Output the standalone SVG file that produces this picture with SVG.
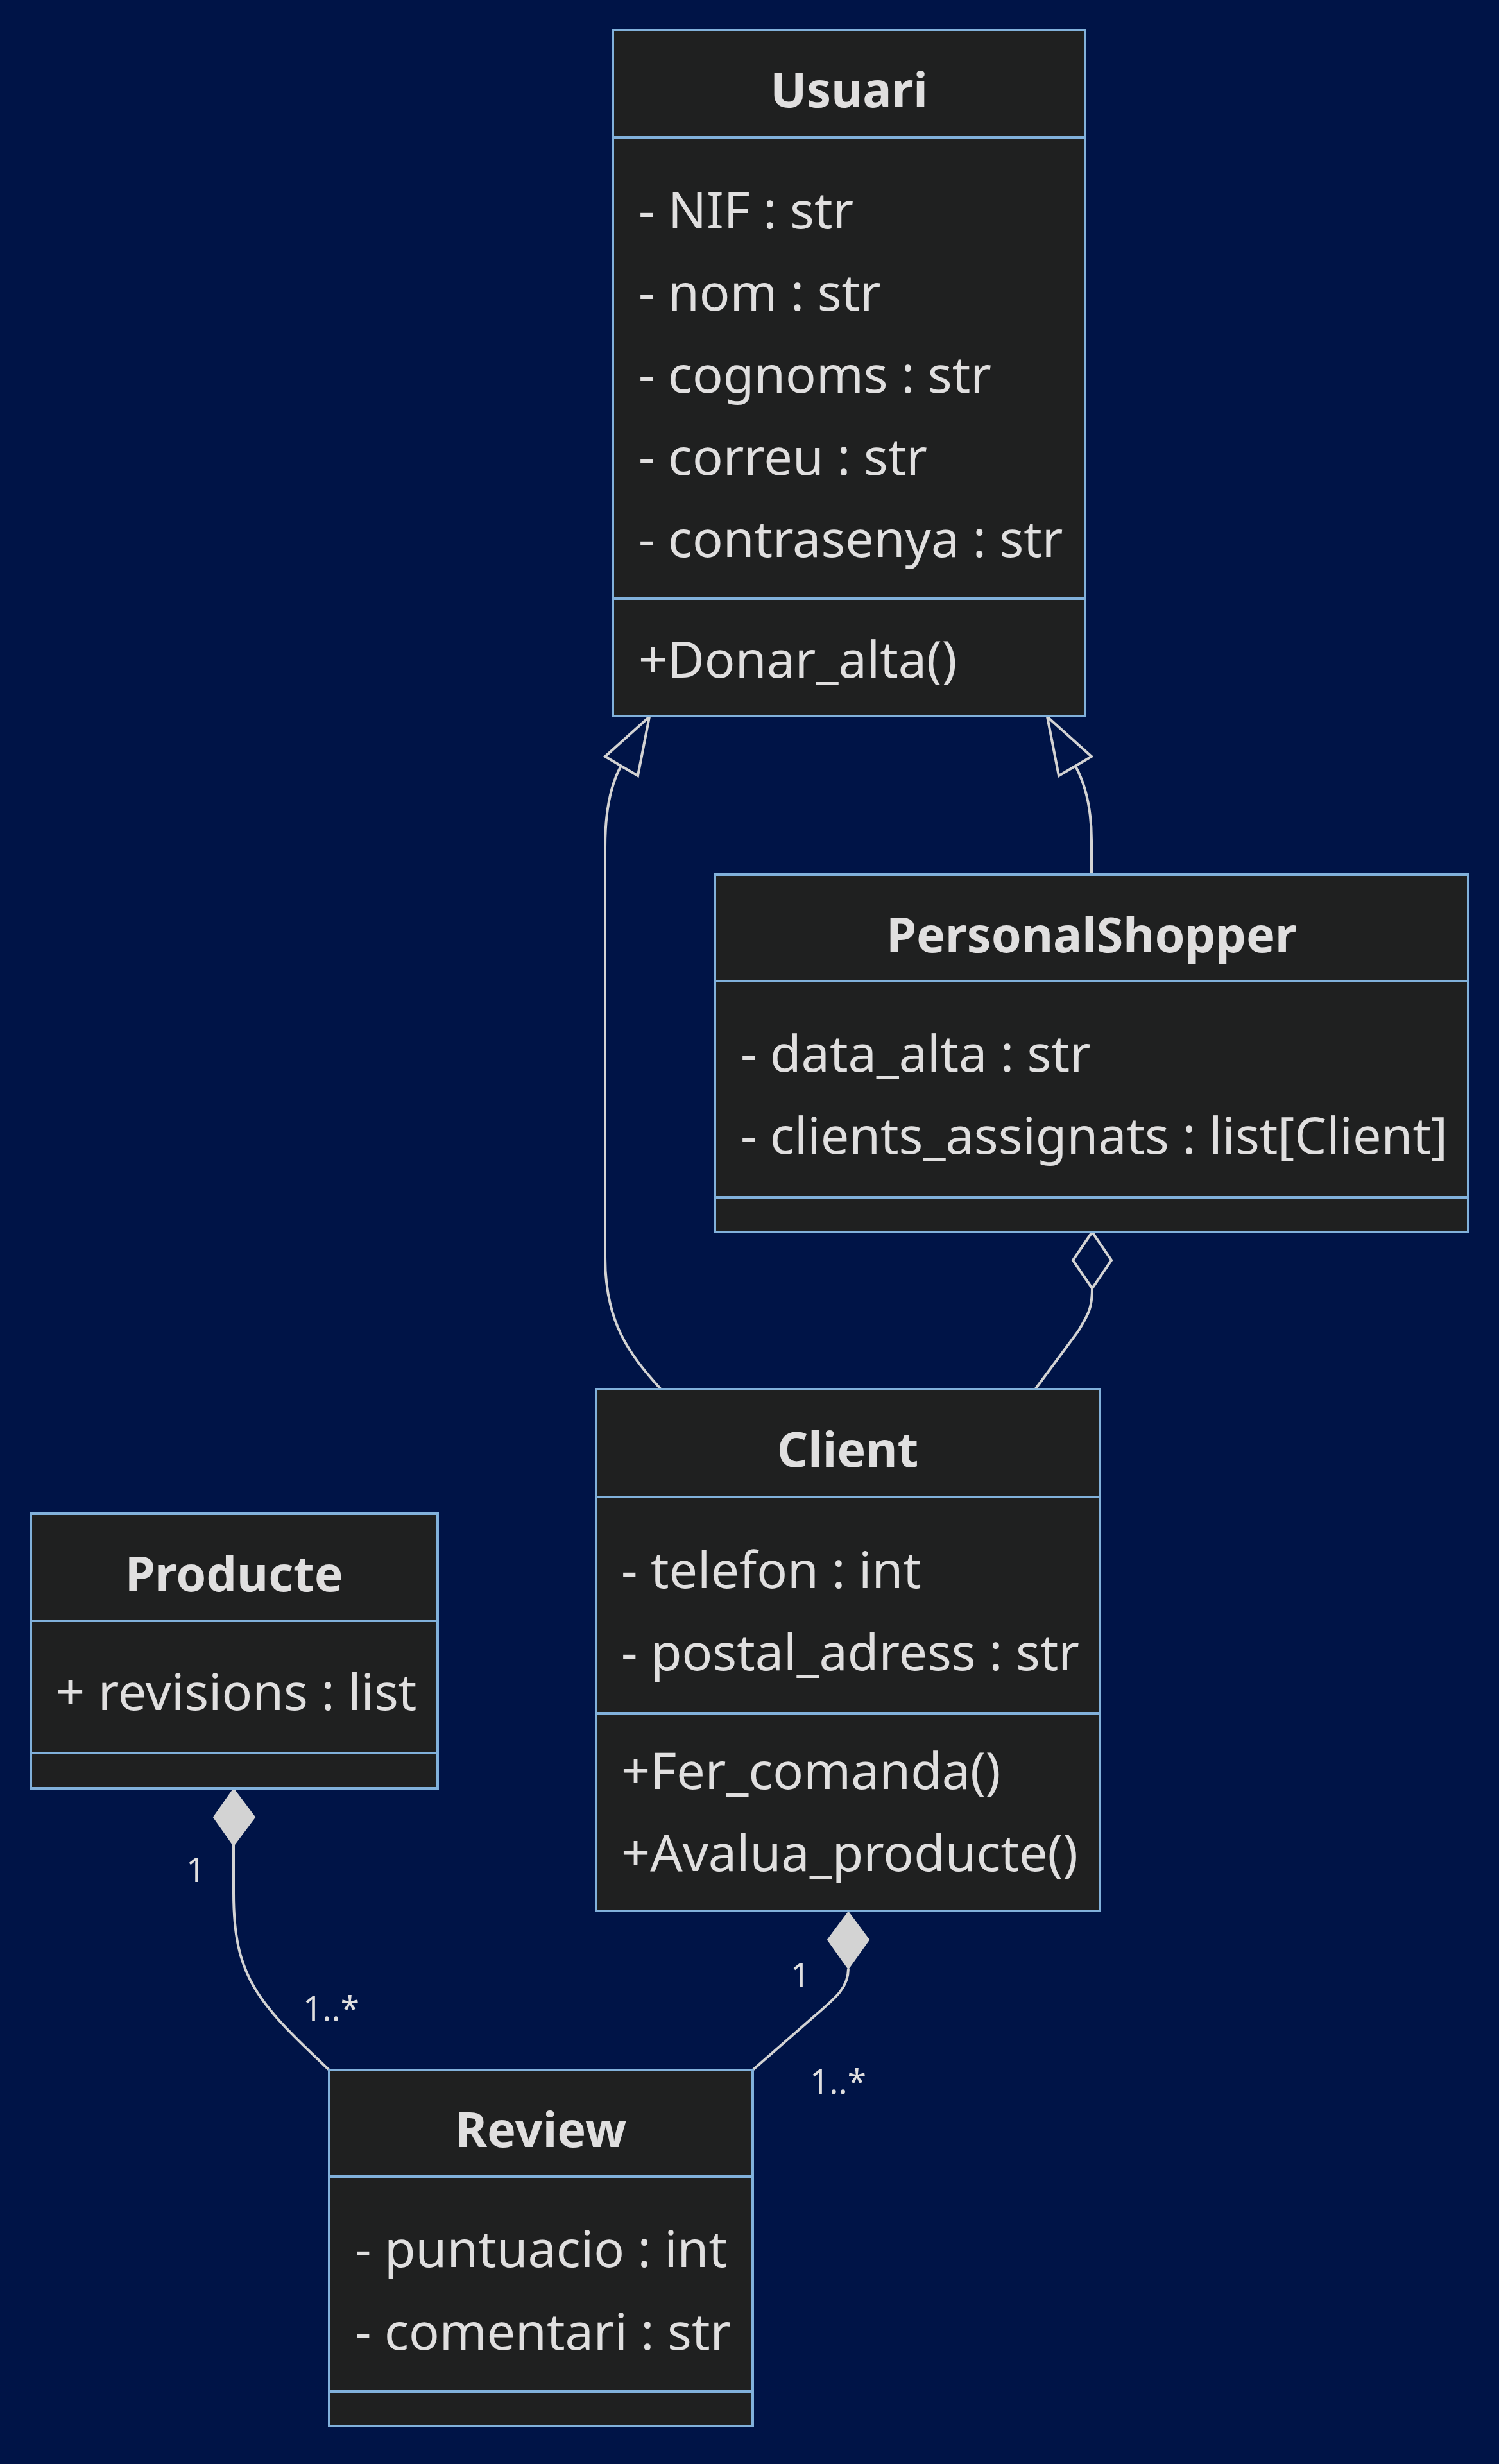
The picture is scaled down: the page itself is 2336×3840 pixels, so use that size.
<svg xmlns="http://www.w3.org/2000/svg" width="2336" height="3840" viewBox="0 0 2336 3840">
<style>
.box{fill:#1f2020;stroke:#81b1db;stroke-width:4}
.div{stroke:#81b1db;stroke-width:4}
.t{font-family:"Noto Sans","Open Sans",sans-serif;fill:#e0dfdf;font-size:79px}
.title{font-weight:bold;text-anchor:middle;font-size:75.5px}
.edge{fill:none;stroke:#d3d3d3;stroke-width:4}
.lbl{font-family:"Noto Sans","Open Sans",sans-serif;fill:#e0dfdf;font-size:53px}
.hollow{fill:none;stroke:#d3d3d3;stroke-width:4;stroke-linejoin:miter}
.filled{fill:#d3d3d3;stroke:#d3d3d3;stroke-width:2}
</style>
<rect x="0" y="0" width="2336" height="3840" fill="#001447"/>

<g id="connectors">
  <path class="edge" d="M967,1195 Q943,1240 943,1320 L943,1960 C943,2060 980,2110 1029,2164"/>
  <polygon class="hollow" points="1012,1117 943,1179 994,1209"/>
  <path class="edge" d="M1676,1194 Q1701,1240 1701,1310 L1701,1363"/>
  <polygon class="hollow" points="1632,1117 1701,1179 1650,1209"/>
  <path class="edge" d="M1702,2008 C1702,2040 1695,2050 1680,2075 L1614,2164"/>
  <polygon class="hollow" points="1702,1920 1672,1964 1702,2008 1732,1964"/>
  <path class="edge" d="M364,2876 L364,2950 C364,3080 400,3120 513,3226"/>
  <polygon class="filled" points="364,2788 333,2832 364,2876 397,2832"/>
  <path class="edge" d="M1322,3068 C1322,3100 1300,3115 1260,3150 L1173,3226"/>
  <polygon class="filled" points="1322,2980 1290,3023 1322,3068 1354,3023"/>
  <text class="lbl" x="290" y="2933">1</text>
  <text class="lbl" x="472" y="3149">1..*</text>
  <text class="lbl" x="1232" y="3097">1</text>
  <text class="lbl" x="1262" y="3263">1..*</text>
</g>

<g id="Usuari">
  <rect class="box" x="955" y="47" width="736" height="1069"/>
  <line class="div" x1="955" y1="214" x2="1691" y2="214"/>
  <line class="div" x1="955" y1="933" x2="1691" y2="933"/>
  <text class="t title" x="1323" y="167">Usuari</text>
  <text class="t" x="995" y="356">- NIF : str</text>
  <text class="t" x="995" y="484">- nom : str</text>
  <text class="t" x="995" y="612">- cognoms : str</text>
  <text class="t" x="995" y="740">- correu : str</text>
  <text class="t" x="995" y="868">- contrasenya : str</text>
  <text class="t" x="995" y="1056">+Donar_alta()</text>
</g>

<g id="PersonalShopper">
  <rect class="box" x="1114" y="1363" width="1174" height="557"/>
  <line class="div" x1="1114" y1="1529" x2="2288" y2="1529"/>
  <line class="div" x1="1114" y1="1866" x2="2288" y2="1866"/>
  <text class="t title" x="1701" y="1484">PersonalShopper</text>
  <text class="t" x="1154" y="1670">- data_alta : str</text>
  <text class="t" x="1154" y="1798">- clients_assignats : list[Client]</text>
</g>

<g id="Client">
  <rect class="box" x="929" y="2165" width="785" height="813"/>
  <line class="div" x1="929" y1="2333" x2="1714" y2="2333"/>
  <line class="div" x1="929" y1="2670" x2="1714" y2="2670"/>
  <text class="t title" x="1321" y="2286">Client</text>
  <text class="t" x="968" y="2475">- telefon : int</text>
  <text class="t" x="968" y="2603">- postal_adress : str</text>
  <text class="t" x="968" y="2788">+Fer_comanda()</text>
  <text class="t" x="968" y="2916">+Avalua_producte()</text>
</g>

<g id="Producte">
  <rect class="box" x="48" y="2359" width="634" height="428"/>
  <line class="div" x1="48" y1="2526" x2="682" y2="2526"/>
  <line class="div" x1="48" y1="2732" x2="682" y2="2732"/>
  <text class="t title" x="365" y="2480">Producte</text>
  <text class="t" x="87" y="2665">+ revisions : list</text>
</g>

<g id="Review">
  <rect class="box" x="513" y="3226" width="660" height="555"/>
  <line class="div" x1="513" y1="3392" x2="1173" y2="3392"/>
  <line class="div" x1="513" y1="3727" x2="1173" y2="3727"/>
  <text class="t title" x="843" y="3346">Review</text>
  <text class="t" x="553" y="3533">- puntuacio : int</text>
  <text class="t" x="553" y="3662">- comentari : str</text>
</g>
</svg>
